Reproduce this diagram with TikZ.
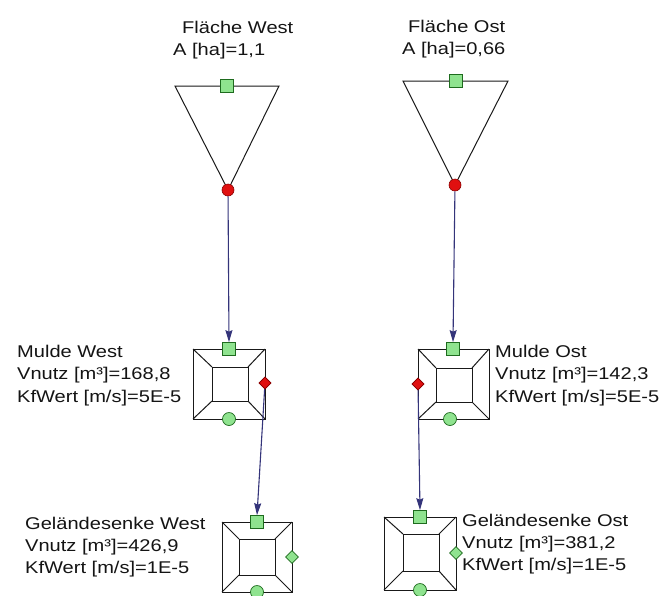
\documentclass[tikz,border=0pt]{standalone}
\usepackage{fontspec}
\setmainfont{Liberation Sans}[FakeStretch=1.18]
\usetikzlibrary{shapes.geometric,arrows.meta}
\definecolor{portgreen}{HTML}{8FE38F}
\definecolor{portgreenline}{HTML}{1E6B1E}
\definecolor{portred}{HTML}{E01010}
\definecolor{portredline}{HTML}{8A0000}
\definecolor{flowcol}{HTML}{34347A}
\definecolor{txt}{HTML}{141414}
\tikzset{
  outline/.style={draw=black!90, line width=1pt},
  insq/.style={draw=portgreenline, fill=portgreen, line width=0.7pt, minimum size=13pt, inner sep=0pt, rectangle},
  incirc/.style={draw=portgreenline, fill=portgreen, line width=0.7pt, minimum size=13pt, inner sep=0pt, circle},
  outcirc/.style={draw=portredline, fill=portred, line width=0.6pt, minimum size=12pt, inner sep=0pt, circle},
  outdia/.style={draw=portredline, fill=portred, line width=0.6pt, minimum size=12pt, inner sep=0pt, diamond},
  gdia/.style={draw=portgreenline, fill=portgreen, line width=0.7pt, minimum size=13pt, inner sep=0pt, diamond},
  flow/.style={draw=flowcol, line width=1.1pt, -{Stealth[length=12pt,width=7pt,inset=1.5pt]}},
  lbl/.style={anchor=base west, inner sep=0pt, text=txt, font=\fontsize{17}{22}\selectfont}
}
\begin{document}
\begin{tikzpicture}[x=1pt,y=-1pt]
\useasboundingbox[fill=white] (0,0) rectangle (664,595);

% ---- Flaeche West
\draw[outline] (175,86) -- (279,86) -- (228,190) -- cycle;
\node[lbl] (fwt) at (182,33) {Fläche West};
\node[lbl] (fwa) at (173,55) {A [ha]=1,1};
\node[insq] (fwin) at (227,86) {};
\node[outcirc] (fwout) at (228,190) {};

% ---- Flaeche Ost
\draw[outline] (403,81) -- (508,81) -- (455,185) -- cycle;
\node[lbl] (fot) at (408,32) {Fläche Ost};
\node[lbl] (foa) at (402,54) {A [ha]=0,66};
\node[insq] (foin) at (456,81) {};
\node[outcirc] (foout) at (455,185) {};

% ---- Mulde West
\draw[outline] (193,349) rectangle (265,419);
\draw[outline] (212,367) rectangle (248,401);
\draw[outline] (193,349) -- (212,367) (265,349) -- (248,367)
               (193,419) -- (212,401) (265,419) -- (248,401);
\node[lbl] (mw1) at (17,357) {Mulde West};
\node[lbl] (mw2) at (17,379.5) {Vnutz [m³]=168,8};
\node[lbl] (mw3) at (17,402) {KfWert [m/s]=5E-5};
\node[incirc] (mwc) at (229,419) {};
\node[insq] (mwin) at (229,349) {};

% ---- Mulde Ost
\draw[outline] (418,349) rectangle (489,419);
\draw[outline] (436,368) rectangle (472,402);
\draw[outline] (418,349) -- (436,368) (489,349) -- (472,368)
               (418,419) -- (436,402) (489,419) -- (472,402);
\node[lbl] (mo1) at (495,357) {Mulde Ost};
\node[lbl] (mo2) at (495,379.5) {Vnutz [m³]=142,3};
\node[lbl] (mo3) at (495,402) {KfWert [m/s]=5E-5};
\node[incirc] (moc) at (450,419) {};
\node[insq] (moin) at (453,349) {};

% ---- Gelaendesenke West
\draw[outline] (222,522) rectangle (292,592);
\draw[outline] (239,539) rectangle (275,575);
\draw[outline] (222,522) -- (239,539) (292,522) -- (275,539)
               (222,592) -- (239,575) (292,592) -- (275,575);
\node[lbl] (gw1) at (25,529) {Geländesenke West};
\node[lbl] (gw2) at (25,551) {Vnutz [m³]=426,9};
\node[lbl] (gw3) at (25,573) {KfWert [m/s]=1E-5};
\node[incirc] (gwc) at (257,592) {};
\node[gdia] (gwd) at (292,557) {};
\node[insq] (gwin) at (257,522) {};

% ---- Gelaendesenke Ost
\draw[outline] (384,517) rectangle (456,590);
\draw[outline] (403,534) rectangle (439,571);
\draw[outline] (384,517) -- (403,534) (456,517) -- (439,534)
               (384,590) -- (403,571) (456,590) -- (439,571);
\node[lbl] (go1) at (462,526) {Geländesenke Ost};
\node[lbl] (go2) at (462,548) {Vnutz [m³]=381,2};
\node[lbl] (go3) at (462,570) {KfWert [m/s]=1E-5};
\node[incirc] (goc) at (420,590) {};
\node[gdia] (god) at (456,553) {};
\node[insq] (goin) at (420,517) {};

% ---- connectors
\draw[flow] (fwout) -- (mwin.north);
\draw[flow] (foout) -- (moin.north);
\node[outdia] (mwout) at (265,383) {};
\node[outdia] (moout) at (418,384) {};
\draw[flow] (mwout) -- (gwin.north);
\draw[flow] (moout) -- (goin.north);
\node[outdia] at (mwout) {};
\node[outdia] at (moout) {};
\end{tikzpicture}
\end{document}
